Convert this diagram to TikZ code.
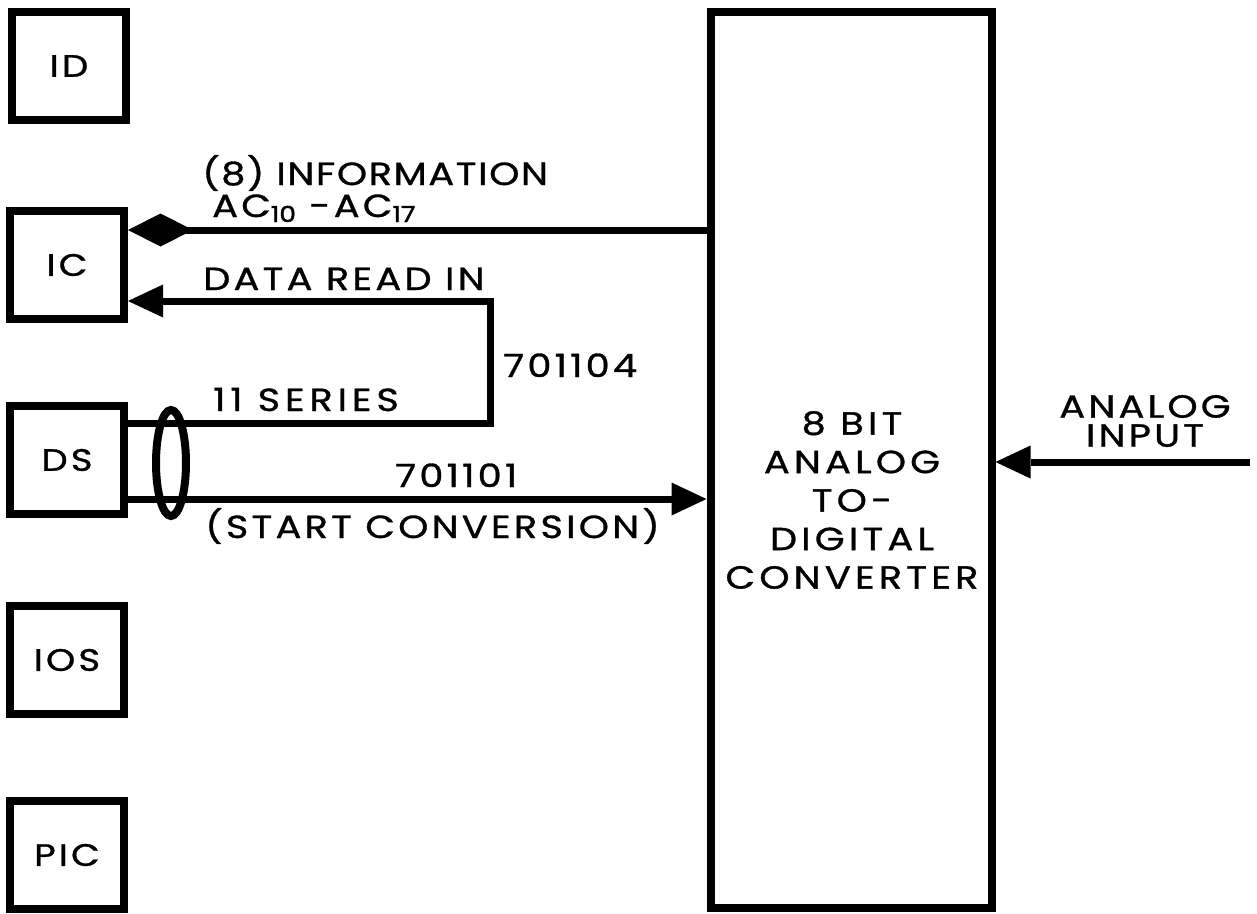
\documentclass[tikz,border=0pt]{standalone}
\usepackage{fontspec}
\usetikzlibrary{arrows.meta}
\newfontfamily\labfont{Poppins}[FakeStretch=1.2,LetterSpace=10,FakeBold=1]
\newcommand{\acsub}[1]{\raisebox{-5pt}{\fontsize{22}{22}\selectfont\addfontfeature{LetterSpace=0,FakeBold=2}#1}}

\begin{document}
\begin{tikzpicture}[x=1pt,y=-1pt,
  unit/.style={draw,line width=8pt,minimum width=114pt,minimum height=108pt,inner sep=0pt,
    font=\labfont\fontsize{31}{31}\selectfont},
  sig/.style={line width=7pt},
  txt/.style={inner sep=0pt,anchor=base west,font=\labfont\fontsize{32}{32}\selectfont},
  tri/.style={-{Triangle[length=35pt,width=33pt,line width=0pt]}},
  kite/.style={-{Diamond[length=65pt,width=33pt,line width=0pt]}}]
  \useasboundingbox (0,0) rectangle (1257,913);
  % the units on the left
  \foreach \name/\x/\y in {ID/69/66,IC/67/265,DS/67/460,IOS/67/660,PIC/67/855}
    \node[unit] (\name) at (\x,\y) {\name};
  % converter
  \node[draw,line width=8pt,minimum width=281pt,minimum height=896pt] (adc) at (851,460) {};
  \node[inner sep=0pt,align=center,font=\labfont\fontsize{32}{38.5}\selectfont\addfontfeature{LetterSpace=13}]
    (adclab) at (852,500) {8 BIT\\ANALOG\\TO-\\DIGITAL\\CONVERTER};
  % turning points of the wires
  \coordinate (info) at (400,230);
  \coordinate (readin) at (490,301);
  \coordinate (series) at (490,423);
  \coordinate (conv) at (400,499);
  \coordinate (ain) at (1250,462);
  \coordinate (bundle) at (171,463);
  \draw[sig,kite] (adc.west |- info) -- (IC.east |- info);
  \draw[sig,tri] (DS.east |- series) -- (series) -- (readin) -- (IC.east |- readin);
  \draw[sig,tri] (DS.east |- conv) -- (adc.west |- conv);
  \draw[sig,tri] (ain) -- (adc.east |- ain);
  \draw[line width=8pt] (bundle) ellipse [x radius=15, y radius=53];
  % wire labels
  \node[txt,font=\labfont\fontsize{32}{32}\selectfont\addfontfeature{LetterSpace=5}] (infolab) at (202,185) {(8) INFORMATION};
  \node[txt] (aclab) at (212,217) {AC\acsub{10} -AC\acsub{17}};
  \node[txt] (readlab) at (203,290) {DATA READ IN};
  \node[txt] (rdnum) at (503,377) {701104};
  \node[txt,font=\labfont\fontsize{32}{32}\selectfont\addfontfeature{LetterSpace=15}] (serlab) at (213,411) {11 SERIES};
  \node[txt] (cvnum) at (395,487) {701101};
  \node[txt] (cvlab) at (205,538) {(START CONVERSION)};
  \node[inner sep=0pt,align=center,font=\labfont\fontsize{32}{29}\selectfont] (ainlab) at (1145,421)
    {ANALOG\\INPUT};
\end{tikzpicture}
\end{document}
